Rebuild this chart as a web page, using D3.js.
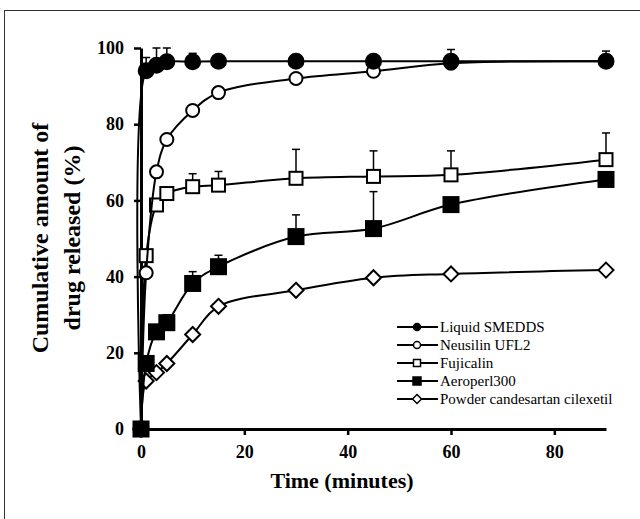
<!DOCTYPE html>
<meta charset="utf-8">
<head>
    <title>Drug release</title>
    <style>
        body { margin: 0; background: #fff; }
    </style>
</head>
<body>
<div id="my_dataviz"></div>
<script src="https://d3js.org/d3.v7.min.js"></script>
<script>

    // time points (minutes)
    var times = [0, 1, 3, 5, 10, 15, 30, 45, 60, 90];

    // series values (% released)
    var liquidVals   = [0, 94, 95.5, 96.4, 96.4, 96.5, 96.5, 96.5, 96.5, 96.5];
    var neusilinVals = [0, 41, 67.5, 76, 83.6, 88.3, 92, 93.9, 96, 96.5];
    var fujiVals     = [0, 45.5, 58.8, 61.8, 63.6, 64, 65.8, 66.3, 66.7, 70.7];
    var aeroVals     = [0, 17.2, 25.5, 27.9, 38.2, 42.6, 50.5, 52.6, 58.9, 65.5];
    var powderVals   = [0, 12.6, 14.8, 17.2, 24.8, 32.2, 36.4, 39.7, 40.7, 41.7];

    // top of the error bars (null = none drawn)
    var liquidErr   = [null, 97.5, 100, 100, 98.6, null, null, null, 99.6, 99.2];
    var fujiErr     = [null, null, null, null, 67, 67.6, 73.4, 73, 73, 77.7];
    var aeroErr     = [null, null, null, 30, 41.3, 45.6, 56.2, 62.3, null, null];

    var seriesNames = ["Liquid SMEDDS", "Neusilin UFL2", "Fujicalin", "Aeroperl300", "Powder candesartan cilexetil"];
    var xTicks = [0, 20, 40, 60, 80];
    var yTicks = [0, 20, 40, 60, 80, 100];

    var series = [
        {name: seriesNames[0], vals: liquidVals,   err: liquidErr, shape: "circle",  fill: true},
        {name: seriesNames[1], vals: neusilinVals, err: null,      shape: "circle",  fill: false},
        {name: seriesNames[2], vals: fujiVals,     err: fujiErr,   shape: "square",  fill: false},
        {name: seriesNames[3], vals: aeroVals,     err: aeroErr,   shape: "square",  fill: true},
        {name: seriesNames[4], vals: powderVals,   err: null,      shape: "diamond", fill: false}
    ];

    var serif = "'Liberation Serif', 'DejaVu Serif', serif";

    var W = 640, H = 519;
    var svg = d3.select("#my_dataviz")
        .append("svg")
        .attr("width", W)
        .attr("height", H);

    // outer frame (only top and left edges show in the picture)
    svg.append("rect")
        .attr("x", 4.5).attr("y", 10.5)
        .attr("width", 700).attr("height", 600)
        .style("fill", "none").style("stroke", "#333").style("stroke-width", 1);

    var x = d3.scaleLinear().domain([0, 90]).range([141, 606]);
    var y = d3.scaleLinear().domain([0, 100]).range([429, 48]);

    // axes
    var xAxis = svg.append("g")
        .attr("transform", "translate(0,429)")
        .call(d3.axisBottom(x).tickValues(xTicks).tickSize(6).tickSizeOuter(0).tickPadding(10));
    var yAxis = svg.append("g")
        .attr("transform", "translate(141,0)")
        .call(d3.axisLeft(y).tickValues(yTicks).tickSize(7).tickSizeOuter(0).tickPadding(10));

    [xAxis, yAxis].forEach(function(a) {
        a.select(".domain").style("stroke", "#000").style("stroke-width", 3);
        a.selectAll(".tick line").style("stroke", "#000").style("stroke-width", 2.5);
        a.selectAll(".tick text")
            .style("font-family", serif)
            .style("font-weight", "bold")
            .style("font-size", "18px")
            .style("fill", "#000");
    });

    // axis titles
    svg.append("text")
        .attr("x", 342).attr("y", 488)
        .style("font-family", serif)
        .style("text-anchor", "middle")
        .style("font-weight", "bold")
        .style("font-size", "22px")
        .text("Time (minutes)");

    var yt = svg.append("text")
        .attr("transform", "translate(48,238) rotate(-90)")
        .style("font-family", serif)
        .style("text-anchor", "middle")
        .style("font-weight", "bold")
        .style("font-size", "24px");
    yt.append("tspan").attr("x", 0).attr("y", 0).text("Cumulative amount of");
    yt.append("tspan").attr("x", 0).attr("y", 32).text("drug released (%)");

    // marker drawing
    function drawMarker(g, shape, fill, cx, cy, s) {
        var m;
        if (shape == "circle") {
            m = g.append("circle").attr("cx", cx).attr("cy", cy).attr("r", s / 2);
        } else if (shape == "square") {
            m = g.append("rect").attr("x", cx - s / 2).attr("y", cy - s / 2).attr("width", s).attr("height", s);
        } else {
            var h = s / 2 + 1;
            m = g.append("path").attr("d", "M" + cx + "," + (cy - h) + "L" + (cx + h) + "," + cy +
                "L" + cx + "," + (cy + h) + "L" + (cx - h) + "," + cy + "Z");
        }
        m.style("fill", fill ? "#000" : "#fff").style("stroke", "#000").style("stroke-width", 2);
        return m;
    }

    var line = d3.line()
        .x(function(d) { return x(d[0]) })
        .y(function(d) { return y(d[1]) })
        .curve(d3.curveCatmullRom.alpha(0.5));

    var sizes = {circle: 13, square: 13, diamond: 13};

    // draw from the bottom series up so the top ones sit on top
    series.slice().reverse().forEach(function(s) {
        var g = svg.append("g");
        var pts = times.map(function(t, i) { return [t, s.vals[i]]; });

        // error bars
        if (s.err) {
            s.err.forEach(function(e, i) {
                if (e == null) return;
                var cx = x(times[i]);
                g.append("line")
                    .attr("x1", cx).attr("x2", cx)
                    .attr("y1", y(s.vals[i])).attr("y2", y(e))
                    .style("stroke", "#000").style("stroke-width", 1.5);
                g.append("line")
                    .attr("x1", cx - 4).attr("x2", cx + 4)
                    .attr("y1", y(e)).attr("y2", y(e))
                    .style("stroke", "#000").style("stroke-width", 1.5);
            });
        }

        g.append("path")
            .datum(pts)
            .attr("d", line)
            .style("fill", "none")
            .style("stroke", "#000")
            .style("stroke-width", 2);

        pts.forEach(function(p) {
            var sz = sizes[s.shape] + (s.fill ? 2 : 0);
            drawMarker(g, s.shape, s.fill, x(p[0]), y(p[1]), sz);
        });
    });

    // legend
    var legend = svg.append("g");
    seriesNames.forEach(function(name, i) {
        var ly = 327 + i * 18;
        legend.append("line")
            .attr("x1", 397).attr("x2", 438)
            .attr("y1", ly).attr("y2", ly)
            .style("stroke", "#000").style("stroke-width", 2);
        drawMarker(legend, series[i].shape, series[i].fill, 417, ly, series[i].fill && series[i].shape == "square" ? 8 : 7)
            .style("stroke-width", 1.5);
        legend.append("text")
            .attr("x", 440).attr("y", ly + 5)
            .style("font-family", serif)
            .style("font-size", "15px")
            .style("fill", "#000")
            .text(name);
    });

</script>
</body>
